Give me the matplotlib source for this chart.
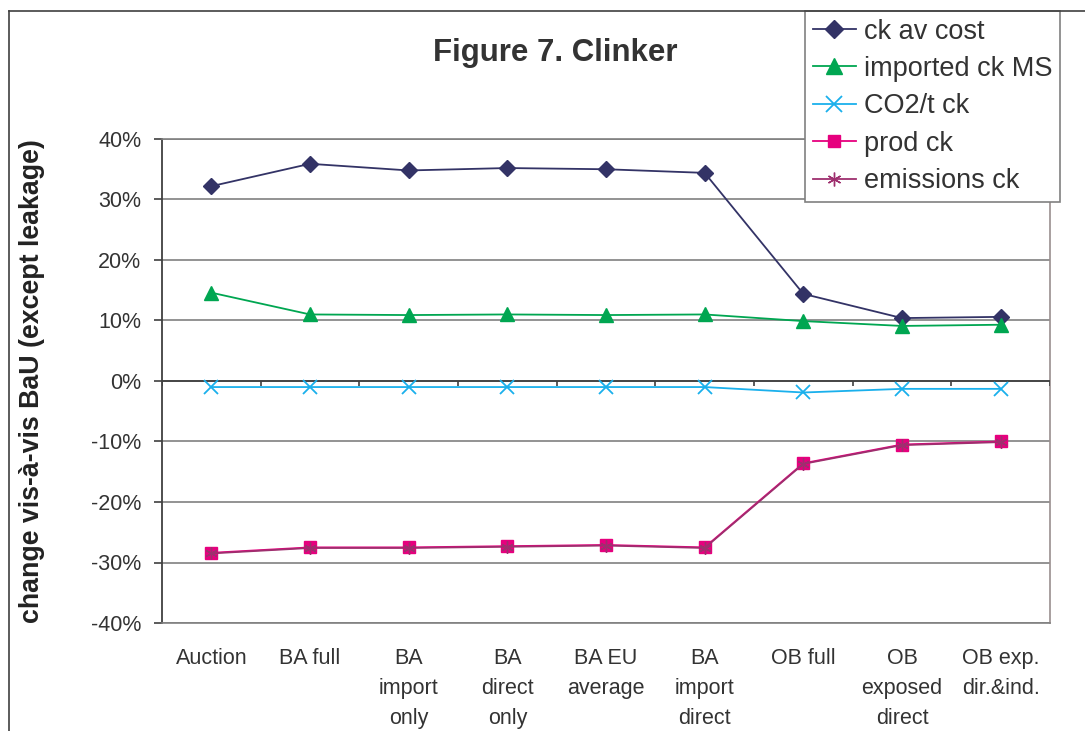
import matplotlib
matplotlib.use('Agg')
import matplotlib.pyplot as plt
from matplotlib.lines import Line2D
from matplotlib.ticker import FuncFormatter, MultipleLocator
import numpy as np

plt.rcParams['font.family'] = ['Liberation Sans', 'DejaVu Sans']

categories = ['Auction', 'BA full', 'BA\nimport\nonly', 'BA\ndirect\nonly', 'BA EU\naverage',
              'BA\nimport\ndirect', 'OB full', 'OB\nexposed\ndirect', 'OB exp.\ndir.&ind.']

ck_av_cost = [32.2, 35.9, 34.8, 35.2, 35.0, 34.4, 14.4, 10.4, 10.6]
imported_ck_ms = [14.6, 11.0, 10.9, 11.0, 10.9, 11.0, 9.9, 9.1, 9.3]
co2_t_ck = [-1.0, -1.0, -1.0, -1.0, -1.0, -1.0, -1.9, -1.3, -1.3]
prod_ck = [-28.4, -27.5, -27.5, -27.3, -27.1, -27.5, -13.6, -10.5, -10.0]
emissions_ck = [-28.5, -27.6, -27.6, -27.4, -27.2, -27.6, -13.7, -10.6, -10.1]

W, H = 1085, 731
fig = plt.figure(figsize=(W / 100, H / 100), dpi=100)
ax = fig.add_axes([162 / W, 1 - 623 / H, (1050 - 162) / W, (623 - 139) / H])

x = np.arange(len(categories))

ax.plot(x, ck_av_cost, color='#333366', lw=1.3, marker='D', ms=8, label='ck av cost', zorder=5)
ax.plot(x, imported_ck_ms, color='#00A651', lw=1.3, marker='^', ms=10, label='imported ck MS', zorder=5)
ax.plot(x, co2_t_ck, color='#1AB0EC', lw=1.3, marker='x', ms=10, mew=1.3, label='CO2/t ck', zorder=5)
ax.plot(x, prod_ck, color='#E6007E', lw=1.3, marker='s', ms=8, label='prod ck', zorder=5)
ax.plot(x, emissions_ck, color='#9E2F6E', lw=1.3, marker=(6, 2, 0), ms=9, mew=1.0,
        label='emissions ck', zorder=6)

ax.set_xlim(-0.5, len(categories) - 0.5)
ax.set_ylim(-40, 40)
ax.yaxis.set_major_locator(MultipleLocator(10))
ax.yaxis.set_major_formatter(FuncFormatter(lambda v, p: f'{v:.0f}%'))
ax.grid(axis='y', color='#808080', lw=1.2)
ax.set_axisbelow(True)

# category axis crosses at 0%
ax.axhline(0, color='#404040', lw=1.3, zorder=3)
ax.vlines(np.arange(len(categories) + 1) - 0.5, -0.9, 0, color='#404040', lw=1.2, zorder=3)

ax.set_xticks(x)
ax.set_xticklabels(categories, linespacing=1.55)
ax.tick_params(axis='x', length=0, pad=18, labelsize=15.5, labelcolor='#333333')
ax.tick_params(axis='y', length=6, width=1.2, color='#404040', pad=9, labelsize=15.5, labelcolor='#333333')

ax.spines['left'].set_color('#404040')
ax.spines['left'].set_linewidth(1.3)
ax.spines['bottom'].set_color('#808080')
ax.spines['bottom'].set_linewidth(1.2)
ax.spines['top'].set_color('#808080')
ax.spines['top'].set_linewidth(1.2)
ax.spines['right'].set_color('#9A8F8F')
ax.spines['right'].set_linewidth(1.2)

ax.set_ylabel('change vis-à-vis BaU (except leakage)', fontsize=19.3, fontweight='bold', color='#222222')
ax.yaxis.set_label_coords(-0.132, 0.5)

fig.text(555 / W, 1 - 53 / H, 'Figure 7. Clinker', ha='center', va='center',
         fontsize=22.5, fontweight='bold', color='#333333')

# chart area frame
fig.add_artist(Line2D([9 / W, 1], [1 - 11 / H, 1 - 11 / H], color='#404040', lw=1.2))
fig.add_artist(Line2D([9 / W, 9 / W], [0, 1 - 11 / H], color='#404040', lw=1.2))

leg = ax.legend(loc='upper left', bbox_to_anchor=(805 / W, 1 - 11 / H), bbox_transform=fig.transFigure,
                fontsize=19.5, frameon=True, fancybox=False, framealpha=1, edgecolor='#808080',
                handlelength=1.6, handletextpad=0.28, labelspacing=0.42, borderpad=0.28,
                borderaxespad=0, markerscale=1.1)
leg.get_frame().set_linewidth(1.2)
for t in leg.get_texts():
    t.set_color('#333333')
leg.set_zorder(10)

fig.savefig('out.png', dpi=100, facecolor='white')
